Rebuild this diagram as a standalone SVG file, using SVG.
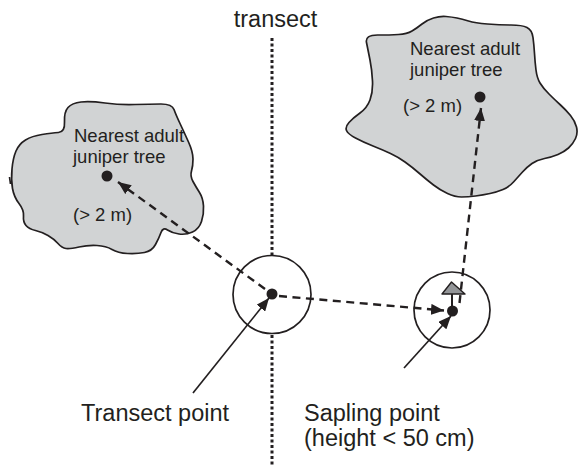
<svg xmlns="http://www.w3.org/2000/svg" width="579" height="467" viewBox="0 0 579 467">
<defs>
<style>
.blob{fill:#d1d3d4;stroke:#231f20;stroke-width:1.7;stroke-linejoin:round}
.lbl{font-family:"Liberation Sans",Arial,sans-serif;fill:#231f20}
.big{font-size:23.5px}
.sm{font-size:18.5px}
.dash{fill:none;stroke:#231f20;stroke-width:2.4;stroke-dasharray:8 5.5}
.solid{fill:none;stroke:#231f20;stroke-width:1.7}
.ring{fill:#fff;stroke:#231f20;stroke-width:1.7}
.dot{fill:#231f20}
</style>
<marker id="ah" viewBox="0 0 13 11" refX="13" refY="5.5" markerWidth="13" markerHeight="11" markerUnits="userSpaceOnUse" orient="auto">
<path d="M0,0 L13,5.5 L0,11 z" fill="#231f20"/>
</marker>
</defs>
<rect width="579" height="467" fill="#fff"/>

<g id="transect">
<text class="lbl big" x="275.5" y="27" text-anchor="middle">transect</text>
<line x1="272" y1="38" x2="272" y2="467" stroke="#231f20" stroke-width="3" stroke-dasharray="3 2.5"/>
</g>

<g id="tree-left">
<path class="blob" d="M58.5,132.5 Q65,132 64.5,122 Q64,112 68,107.5 Q72,103 81,102 Q90,101 105,103 Q120,105 135,104.5 Q150,104 161,104 Q172,104 174,109.5 Q176,115 180,123.5 Q184,132 188.5,142 Q193,152 193,159 Q193,166 191.5,171 Q190,176 193,181.5 Q196,187 199.5,192.5 Q203,198 203.5,206 Q204,214 201.5,221.5 Q199,229 192.5,232 Q186,235 179,234 Q172,233 167.5,230 Q163,227 161,232.5 Q159,238 155.5,244.5 Q152,251 144.5,252.5 Q137,254 127.5,253.5 Q118,253 112,249.5 Q106,246 97,245.5 Q88,245 79,247 Q70,249 66,248.5 Q62,248 58,243.5 Q54,239 48,235.5 Q42,232 35.5,230.5 Q29,229 26,225.5 Q23,222 23.5,216 Q24,210 19,203.5 Q14,197 12.5,188.5 Q11,180 12,169 Q13,158 16,151 Q19,144 25.5,140 Q32,136 42,134.5 Q52,133 58.5,132.5 Z"/>
<line x1="9.5" y1="177" x2="10.5" y2="184" stroke="#231f20" stroke-width="1.7"/>
<text class="lbl sm" x="74" y="142">Nearest adult</text>
<text class="lbl sm" x="73" y="163">juniper tree</text>
<text class="lbl sm" x="73" y="221">(&gt; 2 m)</text>
<circle class="dot" cx="107" cy="176" r="5.5"/>
</g>

<g id="tree-right">
<path class="blob" d="M366.5,42.5 Q365,35 377.5,35 Q390,35 398.5,34.5 Q407,34 412,31 Q417,28 422,24 Q427,20 433.5,18 Q440,16 446,16.5 Q452,17 457,18 Q462,19 468.5,21 Q475,23 487.5,24 Q500,25 511,25 Q522,25 527,27.5 Q532,30 533,37.5 Q534,45 534.5,53.5 Q535,62 536,70 Q537,78 540,83 Q543,88 549,94 Q555,100 560.5,105 Q566,110 570.5,115.5 Q575,121 576.5,127 Q578,133 575.5,138.5 Q573,144 568.5,148 Q564,152 558,154.5 Q552,157 544.5,158.5 Q537,160 532,163.5 Q527,167 522.5,172 Q518,177 513.5,182 Q509,187 503,189.5 Q497,192 490,193.5 Q483,195 475.5,196 Q468,197 461.5,197 Q455,197 447.5,193.5 Q440,190 433.5,185 Q427,180 419.5,173.5 Q412,167 405,162 Q398,157 390.5,153.5 Q383,150 373,146 Q363,142 355.5,138 Q348,134 346.5,130.5 Q345,127 349,122.5 Q353,118 360,113 Q367,108 370,100 Q373,92 372.5,81 Q372,70 370,60 Q368,50 366.5,42.5 Z"/>
<text class="lbl sm" x="410" y="55">Nearest adult</text>
<text class="lbl sm" x="410" y="76">juniper tree</text>
<text class="lbl sm" x="403" y="112">(&gt; 2 m)</text>
<circle class="dot" cx="480" cy="97" r="5.5"/>
</g>

<g id="transect-point">
<circle class="ring" cx="272" cy="294.5" r="39"/>
<circle class="dot" cx="272" cy="294" r="5.5"/>
<text class="lbl big" x="81" y="421">Transect point</text>
</g>

<g id="sapling-point">
<circle class="ring" cx="452" cy="310" r="38"/>
<polygon points="442,294 451.5,282 465,294" fill="#939598" stroke="#231f20" stroke-width="1.4" stroke-linejoin="round"/>
<line x1="452" y1="294" x2="452" y2="306" stroke="#231f20" stroke-width="2"/>
<circle class="dot" cx="452.5" cy="311" r="5.5"/>
<text class="lbl big" x="304" y="421">Sapling point</text>
<text class="lbl big" x="304" y="446">(height &lt; 50 cm)</text>
</g>

<g id="connectors">
<line class="dash" x1="265" y1="289" x2="118" y2="182" marker-end="url(#ah)"/>
<line class="dash" x1="279" y1="296" x2="444" y2="310.5" marker-end="url(#ah)"/>
<line class="dash" x1="459.5" y1="303" x2="481" y2="108" marker-end="url(#ah)"/>
<line class="solid" x1="193" y1="393" x2="269" y2="298" marker-end="url(#ah)"/>
<line class="solid" x1="404" y1="368" x2="451" y2="316" marker-end="url(#ah)"/>
</g>
</svg>
